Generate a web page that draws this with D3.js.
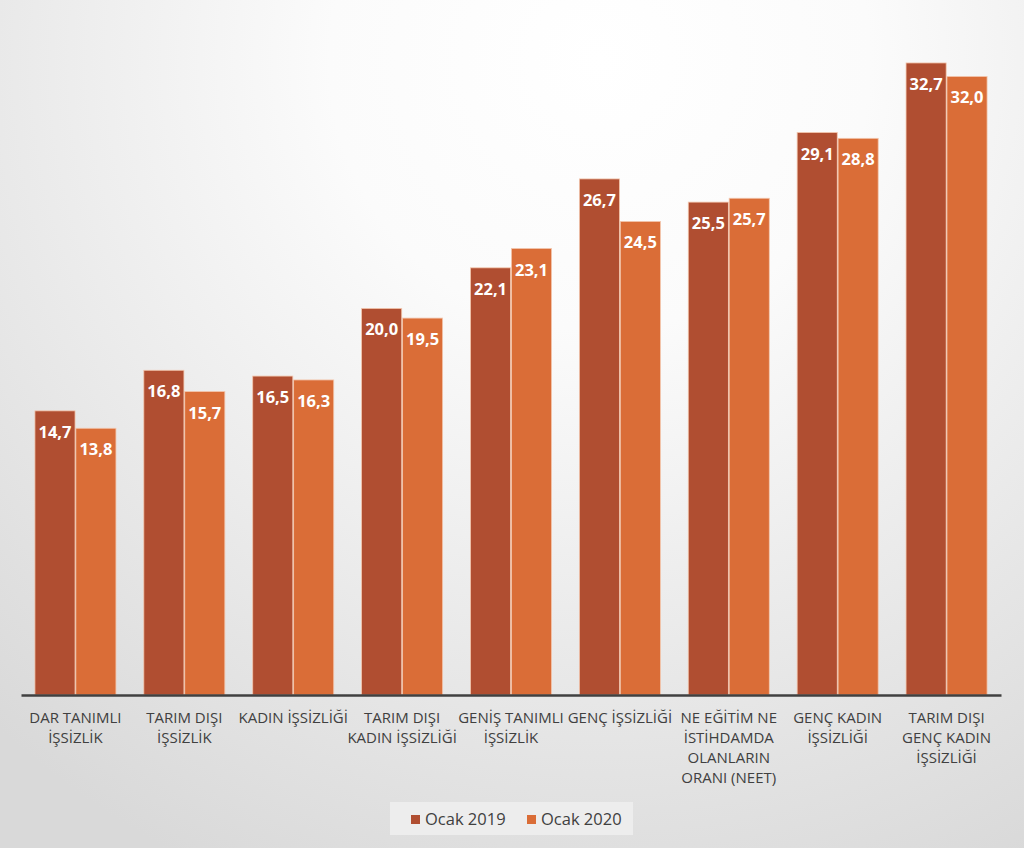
<!DOCTYPE html>
<html>
<head>
<meta charset="utf-8">
<script src="https://cdn.jsdelivr.net/npm/d3@7"></script>
<style>
  html, body { margin: 0; padding: 0; }
  svg { display: block; }
</style>
</head>
<body>
<svg class="canvas"></svg>
<script>
// Data
const categories = [
  "DAR TANIMLI\nİŞSİZLİK",
  "TARIM DIŞI\nİŞSİZLİK",
  "KADIN İŞSİZLİĞİ",
  "TARIM DIŞI\nKADIN İŞSİZLİĞİ",
  "GENİŞ TANIMLI\nİŞSİZLİK",
  "GENÇ İŞSİZLİĞİ",
  "NE EĞİTİM NE\nİSTİHDAMDA\nOLANLARIN\nORANI (NEET)",
  "GENÇ KADIN\nİŞSİZLİĞİ",
  "TARIM DIŞI\nGENÇ KADIN\nİŞSİZLİĞİ"
];
const seriesNames = ["Ocak 2019", "Ocak 2020"];
const ocak2019 = [14.7, 16.8, 16.5, 20.0, 22.1, 26.7, 25.5, 29.1, 32.7];
const ocak2020 = [13.8, 15.7, 16.3, 19.5, 23.1, 24.5, 25.7, 28.8, 32.0];

// Setting constants
const wWidth = 1024;
const wHeight = 848;
const colors = ["#B04E31", "#DA6D37"];
const textColor = "#404040";

// Plot area
const plot = {left: 21, right: 1001, base: 695, top: 18.5};

const svg = d3.select(".canvas")
  .attr("width", wWidth)
  .attr("height", wHeight);

// Background gradient
const defs = svg.append("defs");
const grad = defs.append("radialGradient")
  .attr("id", "bg")
  .attr("gradientUnits", "userSpaceOnUse")
  .attr("cx", 600).attr("cy", 60).attr("r", 900);
grad.append("stop").attr("offset", 0).attr("stop-color", "#ffffff");
grad.append("stop").attr("offset", 0.3).attr("stop-color", "#fbfbfb");
grad.append("stop").attr("offset", 1).attr("stop-color", "#d9d9d9");
svg.append("rect")
  .attr("width", wWidth).attr("height", wHeight)
  .attr("fill", "url(#bg)");

// Scales
const xScale = d3.scaleBand()
  .domain(categories)
  .range([plot.left, plot.right])
  .paddingInner(0.256)
  .paddingOuter(0.128);

const xSub = d3.scaleBand()
  .domain(seriesNames)
  .range([0, xScale.bandwidth()])
  .paddingInner(0.02);

const yScale = d3.scaleLinear()
  .domain([0, 35])
  .range([plot.base, plot.top]);

const rows = categories.map((c, i) => ({
  cat: c,
  vals: [ocak2019[i], ocak2020[i]].map((v, j) => ({key: seriesNames[j], v: v, idx: j}))
}));

// Bars
const groups = svg.selectAll("g.group")
  .data(rows)
  .enter().append("g")
  .attr("class", "group")
  .attr("transform", d => `translate(${xScale(d.cat)},0)`);

groups.selectAll("rect")
  .data(d => d.vals)
  .enter().append("rect")
  .attr("x", d => xSub(d.key))
  .attr("y", d => yScale(d.v))
  .attr("width", xSub.bandwidth())
  .attr("height", d => yScale(0) - yScale(d.v))
  .attr("fill", d => colors[d.idx])
  .attr("stroke", "#f3c6ad")
  .attr("stroke-width", 0.8);

// Value labels
groups.selectAll("text.val")
  .data(d => d.vals)
  .enter().append("text")
  .attr("class", "val")
  .attr("x", d => xSub(d.key) + xSub.bandwidth() / 2)
  .attr("y", d => yScale(d.v) + 27)
  .attr("text-anchor", "middle")
  .style("font-family", "'Open Sans', sans-serif")
  .style("font-weight", "bold")
  .style("font-size", "16.5px")
  .attr("fill", "#ffffff")
  .text(d => d3.format(".1f")(d.v).replace(".", ","));

// X axis line
const xAxis = d3.axisBottom(xScale).tickSize(0).tickFormat("");
const xAxisGroup = svg.append("g")
  .attr("transform", `translate(0, ${plot.base})`)
  .call(xAxis);
xAxisGroup.select(".domain")
  .attr("stroke", textColor)
  .attr("stroke-width", 2.6);

// Category labels
const labels = svg.selectAll("text.cat")
  .data(categories)
  .enter().append("text")
  .attr("class", "cat")
  .attr("text-anchor", "middle")
  .attr("x", d => xScale(d) + xScale.bandwidth() / 2)
  .attr("y", 723)
  .style("font-family", "'Open Sans', sans-serif")
  .style("font-size", "15px")
  .attr("fill", textColor);
labels.selectAll("tspan")
  .data(d => d.split("\n"))
  .enter().append("tspan")
  .attr("x", function() { return d3.select(this.parentNode).attr("x"); })
  .attr("dy", (d, i) => i === 0 ? 0 : 20)
  .text(d => d);

// Legend
const legend = svg.append("g");
legend.append("rect")
  .attr("x", 390).attr("y", 802)
  .attr("width", 243).attr("height", 33)
  .attr("fill", "#ededed");
const legendX = [411, 527];
seriesNames.forEach((s, i) => {
  legend.append("rect")
    .attr("x", legendX[i]).attr("y", 815)
    .attr("width", 9).attr("height", 9)
    .attr("fill", colors[i]);
  legend.append("text")
    .attr("x", legendX[i] + 14).attr("y", 825)
    .style("font-family", "'Open Sans', sans-serif")
    .style("font-size", "16.5px")
    .attr("fill", textColor)
    .text(s);
});
</script>
</body>
</html>
